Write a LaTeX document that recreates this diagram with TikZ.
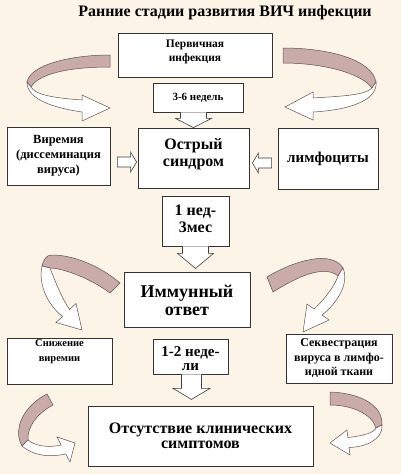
\documentclass[tikz,border=0pt]{standalone}
\usepackage{fontspec}
\setmainfont{Liberation Serif}
\newfontfamily\tms{Liberation Serif}
\usetikzlibrary{calc}
\definecolor{bg}{HTML}{FCF4E6}
\definecolor{mauve}{HTML}{C9ABAA}
\definecolor{edgec}{HTML}{5E5252}
\begin{document}
\begin{tikzpicture}[x=1pt,y=-1pt,
  box/.style={draw=black!80, line width=0.8pt, fill=white, rectangle, inner sep=0pt},
  lbl/.style={align=center, inner sep=0pt},
  blk/.style={draw=black!75, line width=0.6pt, fill=white, line join=miter},
  back/.style={draw=edgec, line width=0.5pt, fill=mauve},
  front/.style={draw=edgec, line width=0.5pt, fill=white, line join=miter}]
\useasboundingbox (0,0) rectangle (401,474);
\fill[bg] (0,0) rectangle (401,474);

% title
\node[lbl, font=\tms\bfseries\fontsize{16}{18}\selectfont] (title) at (225,13) {Ранние стадии развития ВИЧ инфекции};

% curved ribbon arrows
% top-left
\path[back] (110,55) .. controls (70,55) and (30,65) .. (27,82) -- (31,87) .. controls (40,72) and (75,67) .. (110,67) -- cycle;
\path[front] (27,82) .. controls (27,100) and (55,108) .. (82,112) -- (82,121) -- (110,108) -- (82,95) -- (82,100) .. controls (55,98) and (35,95) .. (31,87) -- cycle;
% top-right
\path[back] (283,48) .. controls (330,48) and (372,60) .. (376,82) -- (372,88) .. controls (360,72) and (320,63) .. (283,63) -- cycle;
\path[front] (376,82) .. controls (378,100) and (350,110) .. (313,112) -- (313,120) -- (285,107) -- (313,92) -- (313,98) .. controls (345,96) and (365,95) .. (372,88) -- cycle;
% middle-left
\path[back] (42,266) .. controls (44,258) and (47,255) .. (52,255) .. controls (78,255) and (105,270) .. (120,283) -- (110,293) .. controls (90,278) and (62,268) .. (50,268) -- cycle;
\path[front] (42,266) .. controls (38,285) and (48,305) .. (62.5,316.5) -- (56,322.5) -- (82,330) -- (76,303.5) -- (69.5,309.5) .. controls (60,295) and (54,278) .. (50,268) -- cycle;
% middle-right
\path[back] (267,277) .. controls (295,260) and (332,250) .. (343,268) -- (338,276) .. controls (325,265) and (300,275) .. (273,292) -- cycle;
\path[front] (343,268) .. controls (350,285) and (335,305) .. (322,315) -- (329,320) -- (303,332) -- (307,304) -- (314,309) .. controls (326,298) and (335,285) .. (338,276) -- cycle;
% bottom-left
\path[back] (47,394) .. controls (25,405) and (12,428) .. (22,446) -- (28,440) .. controls (27,428) and (36,414) .. (53,405) -- cycle;
\path[front] (22,446) .. controls (35,457) and (52,457) .. (65.8,454) -- (70,462) -- (75,443) -- (57,437) -- (61.2,445) .. controls (48,448) and (35,446) .. (28,440) -- cycle;
% bottom-right
\path[back] (330,392) .. controls (360,393) and (383,405) .. (382,425) -- (376,428) .. controls (372,414) and (352,405) .. (330,405) -- cycle;
\path[front] (382,425) .. controls (383,440) and (365,447) .. (349.1,447.5) -- (350,455) -- (330,443) -- (347,430) -- (347.9,437.5) .. controls (362,436) and (374,433) .. (376,428) -- cycle;

% boxes
\node[box, minimum width=154pt, minimum height=44pt] (perv) at (195,55) {};
\node[box, minimum width=90pt, minimum height=29pt] (w36) at (198,97.5) {};
\node[box, minimum width=111pt, minimum height=60pt] (ostr) at (193.5,158) {};
\node[box, minimum width=103pt, minimum height=58pt] (vir) at (58.5,156) {};
\node[box, minimum width=100pt, minimum height=61pt] (limf) at (328,158.5) {};
\node[box, minimum width=67pt, minimum height=50pt] (n13) at (195.5,221) {};
\node[box, minimum width=126pt, minimum height=55pt] (imm) at (187,299.5) {};
\node[box, minimum width=105pt, minimum height=46pt] (sniz) at (59.5,361) {};
\node[box, minimum width=75pt, minimum height=35pt] (n12) at (190.5,356.5) {};
\node[box, minimum width=106pt, minimum height=49pt] (sekv) at (339,358.5) {};
\node[box, minimum width=225pt, minimum height=60pt] (ots) at (200.5,436) {};

% texts
\node[lbl, font=\tms\bfseries\fontsize{11.5}{14}\selectfont] (pervt) at ($(perv)+(0,-3)$) {Первичная\\инфекция};
\node[lbl, font=\tms\bfseries\fontsize{11}{13}\selectfont] (w36t) at (w36) {3-6 недель};
\node[lbl, font=\tms\bfseries\fontsize{16}{17}\selectfont] (ostrt) at ($(ostr)+(0,-4)$) {Острый\\синдром};
\node[lbl, font=\tms\bfseries\fontsize{12.5}{15}\selectfont] (virt) at (vir) {Виремия\\(диссеминация\\вируса)};
\node[lbl, font=\tms\bfseries\fontsize{15}{17}\selectfont] (limft) at (limf) {лимфоциты};
\node[lbl, font=\tms\bfseries\fontsize{16}{17}\selectfont] (n13t) at ($(n13)+(0,-2)$) {1 нед-\\3мес};
\node[lbl, font=\tms\bfseries\fontsize{18}{18}\selectfont] (immt) at ($(imm)+(0,1)$) {Иммунный\\ответ};
\node[lbl, font=\tms\bfseries\fontsize{10.5}{15}\selectfont] (snizt) at ($(sniz)+(0,-9)$) {Снижение\\виремии};
\node[lbl, font=\tms\bfseries\fontsize{15}{14.5}\selectfont] (n12t) at ($(n12)+(0,2)$) {1-2 неде-\\ли};
\node[lbl, font=\tms\bfseries\fontsize{12}{14.5}\selectfont] (sekvt) at (sekv) {Секвестрация\\вируса в лимфо-\\идной ткани};
\node[lbl, font=\tms\bfseries\fontsize{16}{15}\selectfont] (otst) at ($(ots)+(0,0)$) {Отсутствие клинических\\симптомов};

% block arrows (down)
\coordinate (d1) at (ostr.north |- w36.south);
\path[blk] ($(d1)+(-13,0)$) -- ($(d1)+(-13,6)$) -- ($(d1)+(-18,6)$) -- (ostr.north) -- ($(d1)+(18,6)$) -- ($(d1)+(13,6)$) -- ($(d1)+(13,0)$);
\coordinate (d2) at (n13.south);
\coordinate (d2t) at ($(n13.south)+(0,22)$);
\path[blk] ($(d2)+(-13,0)$) -- ($(d2)+(-13,7)$) -- ($(d2)+(-18,7)$) -- (d2t) -- ($(d2)+(18,7)$) -- ($(d2)+(13,7)$) -- ($(d2)+(13,0)$);
\coordinate (d3) at ($(n12.south)+(1,0)$);
\coordinate (d3t) at ($(d3)+(0,25)$);
\path[blk] ($(d3)+(-10,0)$) -- ($(d3)+(-10,14)$) -- ($(d3)+(-18.5,14)$) -- (d3t) -- ($(d3)+(18.5,14)$) -- ($(d3)+(10,14)$) -- ($(d3)+(10,0)$);

% side arrows
\coordinate (la1) at ($(vir.east)+(7,6)$);
\coordinate (la2) at ($(ostr.west)+(-1,4)$);
\path[blk] ($(la1)+(0,-5)$) -- ($(la2)+(-6,-5)$) -- ($(la2)+(-6,-10)$) -- (la2) -- ($(la2)+(-6,10)$) -- ($(la2)+(-6,5)$) -- ($(la1)+(0,5)$) -- cycle;
\coordinate (ra1) at ($(limf.west)+(-6,4.5)$);
\coordinate (ra2) at ($(ostr.east)+(3,5)$);
\path[blk] ($(ra1)+(0,-5)$) -- ($(ra2)+(6,-5)$) -- ($(ra2)+(6,-10)$) -- (ra2) -- ($(ra2)+(6,10)$) -- ($(ra2)+(6,5)$) -- ($(ra1)+(0,5)$) -- cycle;
\end{tikzpicture}
\end{document}
